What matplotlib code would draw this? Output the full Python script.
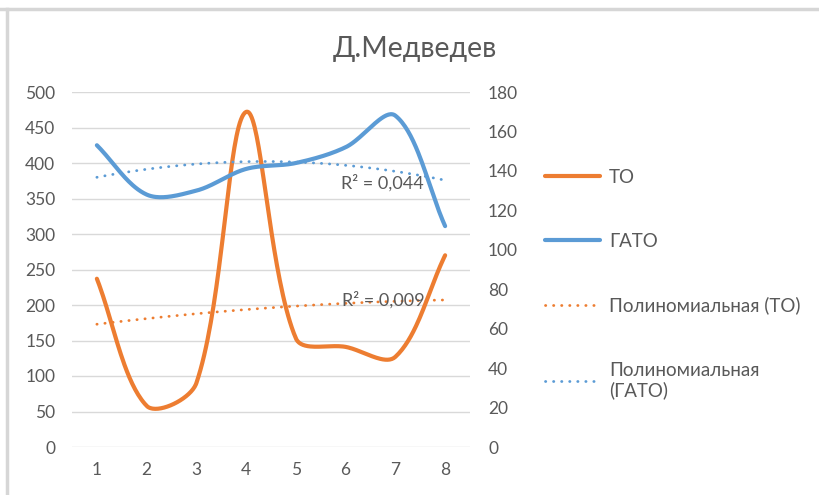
import numpy as np
import matplotlib.pyplot as plt
from matplotlib.lines import Line2D

plt.rcParams['font.family'] = ['Lato', 'Open Sans', 'DejaVu Sans']

categories = [1, 2, 3, 4, 5, 6, 7, 8]
to_values = [237, 58, 90, 472, 153, 141, 127, 270]
gato_values = [153, 128, 130, 141, 144, 152, 168, 112]
left_ticks = [0, 50, 100, 150, 200, 250, 300, 350, 400, 450, 500]
right_ticks = [0, 20, 40, 60, 80, 100, 120, 140, 160, 180]
r2_to = "R² = 0,009"
r2_gato = "R² = 0,044"

ORANGE = '#ED7D31'
BLUE = '#5B9BD5'
TEXT = '#595959'
GRID = '#D9D9D9'


def smooth(axis, xs, ys, n=40):
    # Bezier curve through every point; the tangent at each point is split
    # between the two neighbouring segments by their on-screen length
    pts = axis.transData.transform(np.column_stack([xs, ys]))
    ext = np.vstack([pts[:1], pts, pts[-1:]])
    t = np.linspace(0, 1, n)[:, None]

    def arms(i):
        tan = ext[i + 1] - ext[i - 1]
        a = np.linalg.norm(ext[i] - ext[i - 1])
        b = np.linalg.norm(ext[i + 1] - ext[i])
        if a + b == 0:
            return np.zeros(2), np.zeros(2)
        return tan * a / (a + b) / 3, tan * b / (a + b) / 3

    out = []
    for i in range(1, len(ext) - 2):
        p0, p3 = ext[i], ext[i + 1]
        c1 = p0 + arms(i)[1]
        c2 = p3 - arms(i + 1)[0]
        b = (1 - t) ** 3 * p0 + 3 * (1 - t) ** 2 * t * c1 \
            + 3 * (1 - t) * t ** 2 * c2 + t ** 3 * p3
        out.append(b)
    out = axis.transData.inverted().transform(np.vstack(out))
    return out[:, 0], out[:, 1]


fig = plt.figure(figsize=(8.19, 4.95), dpi=100)
ax = fig.add_axes([72 / 819, 1 - 447 / 495, 398 / 819, 355 / 495])
ax2 = ax.twinx()

ax.set_xlim(0.5, 8.5)
ax.set_ylim(0, 500)
ax2.set_ylim(0, 180)

for v in left_ticks:
    ax.axhline(v, color=GRID, lw=1, zorder=0)

sx, sy = smooth(ax, categories, to_values)
ax.plot(sx, sy, color=ORANGE, lw=3, solid_capstyle='round', zorder=3)
sx, sy = smooth(ax2, categories, gato_values)
ax2.plot(sx, sy, color=BLUE, lw=3, solid_capstyle='round', zorder=3)

# second-order polynomial trendlines
dots = (0, (0.1, 2.8))
xt = np.linspace(1, 8, 100)
c_to = np.polyfit(categories, to_values, 2)
ax.plot(xt, np.polyval(c_to, xt), color=ORANGE, lw=2, dash_capstyle='round',
        linestyle=dots, zorder=2)
c_gato = np.polyfit(categories, gato_values, 2)
ax2.plot(xt, np.polyval(c_gato, xt), color=BLUE, lw=2, dash_capstyle='round',
         linestyle=dots, zorder=2)

ax.text(7.58, 207, r2_to, ha='right', va='center', fontsize=13, color=TEXT, zorder=4)
ax2.text(7.58, 134, r2_gato, ha='right', va='center', fontsize=13, color=TEXT, zorder=4)

ax.set_xticks(categories)
ax.set_yticks(left_ticks)
ax2.set_yticks(right_ticks)
ax.tick_params(axis='x', length=0, pad=11, labelsize=12.5, labelcolor=TEXT)
ax.tick_params(axis='y', length=0, pad=12, labelsize=12.5, labelcolor=TEXT)
ax2.tick_params(axis='y', length=0, pad=13, labelsize=12.5, labelcolor=TEXT)
for a in (ax, ax2):
    for s in a.spines.values():
        s.set_visible(False)
ax.patch.set_visible(False)

fig.text(0.507, 0.902, "Д.Медведев", ha='center', va='center', fontsize=20.5,
         color=TEXT)

# legend
handles = [
    Line2D([], [], color=ORANGE, lw=3, solid_capstyle='round'),
    Line2D([], [], color=BLUE, lw=3, solid_capstyle='round'),
    Line2D([], [], color=ORANGE, lw=2, linestyle=dots, dash_capstyle='round'),
    Line2D([], [], color=BLUE, lw=2, linestyle=dots, dash_capstyle='round'),
]
labels = ["ТО", "ГАТО", "Полиномиальная (ТО)", "Полиномиальная\n(ГАТО)"]
fig.legend(handles, labels, loc='upper left', bbox_to_anchor=(545 / 819, 1 - 169 / 495),
           frameon=False, fontsize=13.5, labelcolor=TEXT, handlelength=2.93,
           handletextpad=0.48, labelspacing=2.5, borderpad=0, borderaxespad=0)

# frame edges of the chart area
fig.add_artist(Line2D([0, 1], [1 - 8.5 / 495] * 2, color='#D6D6D6', lw=2.5))
fig.add_artist(Line2D([6.5 / 819] * 2, [0, 1 - 8.5 / 495], color='#D6D6D6', lw=2.5))

fig.savefig('out.png', dpi=100)
